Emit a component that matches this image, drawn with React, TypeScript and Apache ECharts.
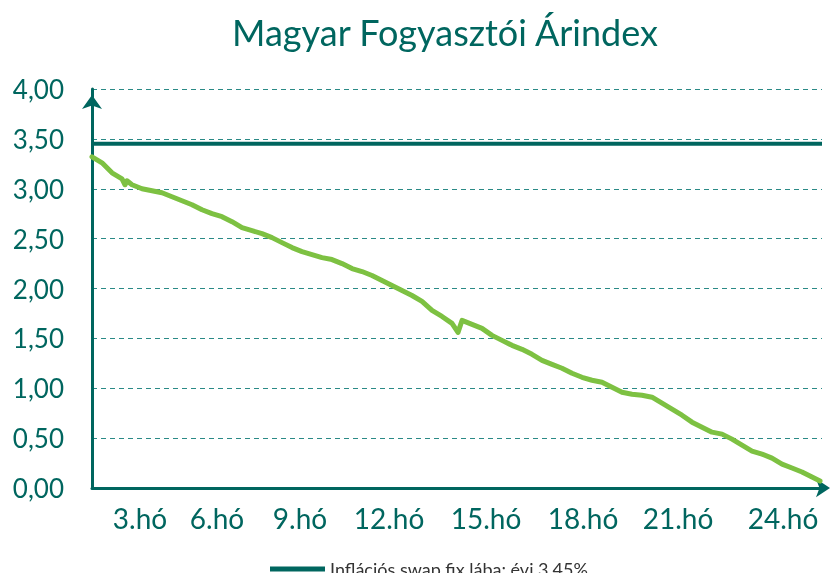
import React, { useEffect, useRef } from "react";
import * as echarts from "echarts";

const titleText = "Magyar Fogyasztói Árindex";
const swapName = "Inflációs swap fix lába: évi 3,45%";
const swapValue = 3.45;

// x in chart steps (0 = start, 73 = end of plot)
const cpiX = [
  0, 1, 2, 3, 3.3, 3.5, 4, 5, 6, 7, 8, 9, 10, 11, 12, 13, 14, 15, 16, 17, 18, 19, 20,
  21, 22, 23, 24, 25, 26, 27, 28, 29, 30, 31, 32, 33, 34, 35, 36, 36.6, 37, 38, 39, 40,
  41, 42, 43, 44, 45, 46, 47, 48, 49, 50, 51, 52, 53, 54, 55, 56, 57, 58, 59, 60, 61,
  62, 63, 64, 65, 66, 67, 68, 69, 70, 71, 72, 72.8,
];
const cpiY = [
  3.32, 3.26, 3.16, 3.1, 3.04, 3.08, 3.04, 3.0, 2.98, 2.96, 2.92, 2.88, 2.84, 2.79, 2.75,
  2.72, 2.67, 2.61, 2.58, 2.55, 2.51, 2.46, 2.41, 2.37, 2.34, 2.31, 2.29, 2.25, 2.2, 2.17,
  2.13, 2.08, 2.03, 1.98, 1.93, 1.87, 1.78, 1.72, 1.65, 1.56, 1.68, 1.64, 1.6, 1.53, 1.48,
  1.43, 1.39, 1.34, 1.28, 1.24, 1.2, 1.15, 1.11, 1.08, 1.06, 1.01, 0.96, 0.94, 0.93, 0.91,
  0.85, 0.79, 0.73, 0.66, 0.61, 0.56, 0.54, 0.49, 0.43, 0.37, 0.34, 0.3, 0.24, 0.2, 0.16,
  0.11, 0.07,
];

const xLabels = ["3.hó", "6.hó", "9.hó", "12.hó", "15.hó", "18.hó", "21.hó", "24.hó"];
const xLabelAt = [4.8, 12.5, 20.8, 29.7, 39.4, 49.1, 58.6, 69.1];

const TEAL = "#00665f";
const GREEN = "#7dc142";
const FONT = "Lato";

export default function App() {
  const ref = useRef<HTMLDivElement>(null);
  useEffect(() => {
    if (!ref.current) return;
    const chart = echarts.init(ref.current, null, { renderer: "svg" });
    const xMax = 73;
    chart.setOption({
      animation: false,
      title: {
        text: titleText,
        left: 440,
        top: 9,
        textAlign: "center",
        textStyle: { color: TEAL, fontFamily: FONT, fontSize: 36, fontWeight: "normal" },
      },
      legend: {
        data: [swapName],
        left: 265,
        top: 555,
        icon: "rect",
        itemWidth: 55,
        itemHeight: 5,
        itemGap: 5,
        textStyle: { color: "#333", fontFamily: FONT, fontSize: 18, padding: [0, 0, 0, 0] },
      },
      grid: { left: 92, right: 15, top: 89, bottom: 85 },
      xAxis: {
        type: "value",
        min: 0,
        max: xMax,
        axisLine: {
          show: true,
          lineStyle: { color: TEAL, width: 3 },
          symbol: ["none", "arrow"],
          symbolSize: [14, 14],
          symbolOffset: [0, 8],
        },
        axisTick: { show: false },
        splitLine: { show: false },
        axisLabel: {
          customValues: xLabelAt,
          formatter: (v: number) => {
            const i = xLabelAt.findIndex((p) => Math.abs(p - v) < 1e-6);
            return i >= 0 ? xLabels[i] : "";
          },
          color: TEAL,
          fontFamily: FONT,
          fontSize: 28,
          margin: 16,
        },
      },
      yAxis: {
        type: "value",
        min: 0,
        max: 4,
        interval: 0.5,
        axisLine: {
          show: true,
          lineStyle: { color: TEAL, width: 3 },
          symbol: ["none", "arrow"],
          symbolSize: [15, 14],
          symbolOffset: [0, -6],
        },
        axisTick: { show: false },
        splitLine: {
          show: true,
          lineStyle: { color: "#2a8a86", width: 1, type: [5, 4] },
        },
        axisLabel: {
          formatter: (v: number) => v.toFixed(2).replace(".", ","),
          color: TEAL,
          fontFamily: FONT,
          fontSize: 26,
          margin: 28,
        },
      },
      series: [
        {
          name: swapName,
          type: "line",
          data: [
            [0, swapValue],
            [xMax, swapValue],
          ],
          showSymbol: false,
          lineStyle: { color: TEAL, width: 4 },
          itemStyle: { color: TEAL },
          z: 3,
        },
        {
          name: "CPI",
          type: "line",
          data: cpiX.map((x, i) => [x, cpiY[i]]),
          showSymbol: false,
          lineStyle: { color: GREEN, width: 5, cap: "round", join: "round" },
          itemStyle: { color: GREEN },
          z: 2,
        },
      ],
    });
    return () => chart.dispose();
  }, []);
  return <div ref={ref} style={{ width: 837, height: 573, position: "fixed", left: 0, top: 0 }} />;
}
